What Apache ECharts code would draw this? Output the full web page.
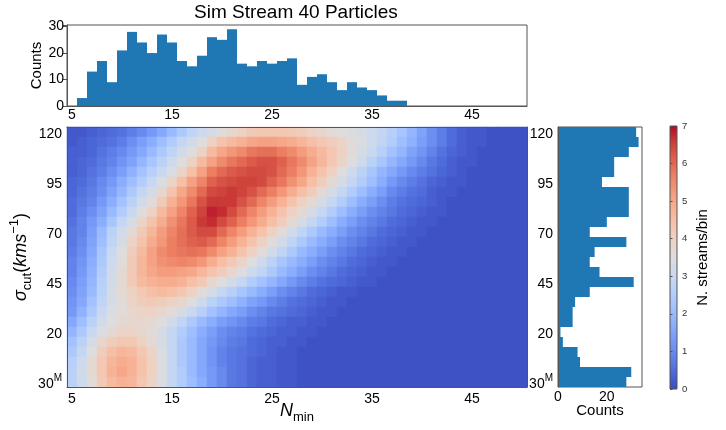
<!doctype html>
<html>
<head>
<meta charset="utf-8">
<title>Sim Stream 40 Particles</title>
<script src="https://cdn.jsdelivr.net/npm/echarts@6/dist/echarts.min.js"></script>
<style>
    html, body {margin: 0; padding: 0; background: #fff;}
    #chart {width: 726px; height: 430px;}
</style>
</head>
<body>
<div id="chart"></div>
<script type="text/javascript">
// N_min columns of the heatmap (also x categories of the top histogram)
var nMin = [5,6,7,8,9,10,11,12,13,14,15,16,17,18,19,20,21,22,23,24,25,26,27,28,29,30,31,32,33,34,35,36,37,38,39,40,41,42,43,44,45,46,47,48,49,50];
// sigma_cut rows, top to bottom (-5 is the "30^M" row)
var sigmaCut = [120,115,110,105,100,95,90,85,80,75,70,65,60,55,50,45,40,35,30,25,20,15,10,5,0,-5];

// top histogram: counts per N_min bin
var histN = [6,7,8,9,10,11,12,13,14,15,16,17,18,19,20,21,22,23,24,25,26,27,28,29,30,31,32,33,34,35,36,37,38];
var histNCounts = [3,13,17,9,21,28,24,20,27,24,17,15,19,26,25,29,16,15,17,16,17,18,8,11,12,9,6,9,7,6,4,2,2];

// right histogram: counts per sigma_cut bin (same order as sigmaCut)
var sigmaCounts = [32,33,29,23,23,18,29,29,29,20,13,28,15,13,17,31,13,7,6,6,1,2,8,9,30,28];

// colorbar scale
var cbMin = 0, cbMax = 7;

// N. streams/bin, one row per sigmaCut entry, one value per nMin entry
var density = [
    [0.2,0.2,0.3,0.4,0.5,0.6,0.8,1.0,1.3,1.6,2.0,2.4,2.8,3.1,3.3,3.6,3.8,4.0,4.2,4.3,4.3,4.3,4.2,4.1,3.9,3.8,3.6,3.5,3.4,3.3,3.1,2.9,2.6,2.3,1.9,1.5,1.1,0.8,0.5,0.3,0.2,0.2,0.1,0.1,0.1,0.1],
    [0.2,0.3,0.4,0.5,0.6,0.8,1.1,1.4,1.7,2.1,2.5,2.9,3.2,3.5,4.0,4.4,4.6,4.8,5.0,5.1,5.1,5.0,4.9,4.7,4.5,4.3,4.1,3.9,3.6,3.4,3.1,2.8,2.5,2.1,1.8,1.4,1.1,0.8,0.5,0.3,0.2,0.2,0.1,0.1,0.1,0.1],
    [0.3,0.3,0.4,0.6,0.8,1.0,1.3,1.6,2.0,2.4,2.8,3.2,3.5,4.0,4.6,5.0,5.3,5.5,5.8,5.9,5.9,5.7,5.5,5.2,4.9,4.6,4.3,4.0,3.6,3.3,3.0,2.6,2.2,1.9,1.5,1.2,0.9,0.6,0.4,0.3,0.2,0.1,0.1,0.1,0.1,0.1],
    [0.3,0.4,0.5,0.7,0.9,1.2,1.5,1.9,2.3,2.7,3.1,3.5,4.0,4.6,5.1,5.5,5.8,6.0,6.2,6.3,6.3,6.1,5.8,5.5,5.1,4.7,4.3,3.9,3.5,3.1,2.7,2.3,1.9,1.6,1.3,1.0,0.7,0.5,0.3,0.2,0.2,0.1,0.1,0.1,0.1,0.1],
    [0.3,0.4,0.6,0.8,1.1,1.4,1.8,2.2,2.6,3.0,3.4,3.9,4.5,5.1,5.7,6.0,6.2,6.3,6.4,6.4,6.3,6.0,5.7,5.3,4.8,4.4,4.0,3.5,3.1,2.7,2.3,1.9,1.6,1.3,1.0,0.8,0.6,0.4,0.3,0.2,0.1,0.1,0.1,0.1,0.1,0.1],
    [0.4,0.5,0.7,1.0,1.3,1.7,2.1,2.5,3.0,3.4,3.9,4.5,5.1,5.6,6.1,6.3,6.4,6.5,6.5,6.4,6.1,5.8,5.4,5.0,4.5,4.1,3.7,3.3,2.9,2.5,2.1,1.7,1.3,1.0,0.8,0.6,0.4,0.3,0.2,0.2,0.1,0.1,0.1,0.1,0.1,0.1],
    [0.4,0.6,0.8,1.1,1.5,1.9,2.4,2.9,3.3,3.8,4.4,5.0,5.5,6.0,6.4,6.5,6.6,6.5,6.3,6.0,5.7,5.3,4.9,4.5,4.1,3.7,3.3,2.9,2.5,2.1,1.7,1.4,1.0,0.8,0.6,0.5,0.3,0.2,0.2,0.1,0.1,0.1,0.1,0.1,0.1,0.1],
    [0.5,0.7,0.9,1.3,1.7,2.2,2.7,3.2,3.6,4.2,4.8,5.3,5.8,6.3,6.6,6.6,6.6,6.3,6.0,5.6,5.2,4.8,4.4,4.0,3.7,3.3,2.9,2.5,2.1,1.7,1.4,1.1,0.8,0.6,0.5,0.4,0.3,0.2,0.1,0.1,0.1,0.1,0.1,0.1,0.1,0.1],
    [0.5,0.8,1.1,1.5,2.0,2.5,3.0,3.5,4.0,4.6,5.1,5.6,6.1,6.5,6.8,6.7,6.4,6.0,5.6,5.2,4.8,4.4,4.0,3.7,3.3,2.9,2.5,2.1,1.7,1.4,1.1,0.9,0.7,0.5,0.4,0.3,0.2,0.2,0.1,0.1,0.1,0.1,0.1,0.1,0.1,0.1],
    [0.6,0.9,1.3,1.7,2.3,2.9,3.3,3.9,4.4,4.9,5.4,5.8,6.2,6.6,6.7,6.4,6.1,5.7,5.3,4.9,4.5,4.1,3.7,3.3,2.9,2.5,2.1,1.7,1.4,1.1,0.9,0.7,0.5,0.4,0.3,0.2,0.2,0.1,0.1,0.1,0.1,0.1,0.1,0.1,0.1,0.1],
    [0.7,0.9,1.4,2.0,2.7,3.2,3.7,4.2,4.7,5.2,5.6,5.9,6.2,6.4,6.4,6.0,5.6,5.2,4.8,4.4,4.0,3.6,3.2,2.8,2.4,2.0,1.7,1.4,1.1,0.9,0.7,0.5,0.4,0.3,0.2,0.2,0.1,0.1,0.1,0.1,0.1,0.1,0.1,0.1,0.1,0.1],
    [0.7,1.0,1.5,2.1,2.8,3.3,3.9,4.4,4.9,5.3,5.7,5.9,6.1,6.2,6.0,5.6,5.2,4.8,4.4,4.0,3.6,3.2,2.8,2.4,2.0,1.7,1.4,1.1,0.9,0.7,0.5,0.4,0.3,0.2,0.2,0.1,0.1,0.1,0.1,0.1,0.1,0.1,0.1,0.1,0.1,0.1],
    [0.8,1.1,1.6,2.3,3.0,3.5,4.1,4.6,5.1,5.5,5.7,5.8,5.9,5.8,5.5,5.1,4.8,4.4,4.0,3.6,3.2,2.8,2.4,2.0,1.7,1.4,1.1,0.9,0.7,0.5,0.4,0.3,0.2,0.2,0.1,0.1,0.1,0.1,0.1,0.1,0.1,0.1,0.1,0.1,0.1,0.1],
    [0.9,1.2,1.7,2.4,3.1,3.6,4.2,4.7,5.1,5.4,5.5,5.6,5.5,5.3,4.9,4.5,4.2,3.9,3.5,3.1,2.7,2.3,2.0,1.7,1.4,1.1,0.9,0.7,0.5,0.4,0.3,0.2,0.2,0.1,0.1,0.1,0.1,0.1,0.1,0.1,0.1,0.1,0.1,0.1,0.1,0.1],
    [0.9,1.3,1.8,2.5,3.2,3.7,4.2,4.7,5.0,5.2,5.2,5.1,5.0,4.7,4.4,4.1,3.8,3.5,3.1,2.8,2.4,2.0,1.7,1.4,1.1,0.9,0.7,0.5,0.4,0.3,0.2,0.2,0.1,0.1,0.1,0.1,0.1,0.1,0.1,0.1,0.1,0.1,0.1,0.1,0.1,0.1],
    [1.0,1.4,1.9,2.6,3.2,3.7,4.2,4.6,4.8,4.9,4.9,4.8,4.5,4.2,3.8,3.5,3.2,2.9,2.5,2.2,1.9,1.6,1.3,1.0,0.8,0.6,0.5,0.4,0.3,0.2,0.2,0.1,0.1,0.1,0.1,0.1,0.1,0.1,0.1,0.1,0.1,0.1,0.1,0.1,0.1,0.1],
    [1.1,1.5,2.0,2.7,3.3,3.7,4.0,4.3,4.5,4.6,4.5,4.3,4.0,3.6,3.3,2.9,2.6,2.3,2.0,1.7,1.4,1.1,0.9,0.7,0.5,0.4,0.3,0.2,0.2,0.1,0.1,0.1,0.1,0.1,0.1,0.1,0.1,0.1,0.1,0.1,0.1,0.1,0.1,0.1,0.1,0.1],
    [1.2,1.6,2.2,2.8,3.3,3.6,3.9,4.1,4.2,4.1,4.0,3.8,3.5,3.1,2.7,2.4,2.1,1.8,1.5,1.3,1.0,0.8,0.6,0.5,0.4,0.3,0.2,0.2,0.1,0.1,0.1,0.1,0.1,0.1,0.1,0.1,0.1,0.1,0.1,0.1,0.1,0.1,0.1,0.1,0.1,0.1],
    [1.3,1.8,2.4,3.0,3.4,3.6,3.8,3.9,3.9,3.8,3.6,3.3,3.0,2.6,2.2,1.9,1.6,1.4,1.1,0.9,0.7,0.6,0.5,0.4,0.3,0.2,0.2,0.1,0.1,0.1,0.1,0.1,0.1,0.1,0.1,0.1,0.1,0.1,0.1,0.1,0.1,0.1,0.1,0.1,0.1,0.1],
    [1.6,2.1,2.7,3.2,3.5,3.7,3.8,3.8,3.7,3.5,3.2,2.8,2.4,2.0,1.7,1.4,1.2,1.0,0.8,0.7,0.5,0.4,0.3,0.3,0.2,0.2,0.1,0.1,0.1,0.1,0.1,0.1,0.1,0.1,0.1,0.1,0.1,0.1,0.1,0.1,0.1,0.1,0.1,0.1,0.1,0.1],
    [1.9,2.4,3.0,3.4,3.7,3.9,3.9,3.8,3.6,3.3,2.9,2.5,2.1,1.7,1.4,1.1,0.9,0.8,0.6,0.5,0.4,0.3,0.3,0.2,0.2,0.1,0.1,0.1,0.1,0.1,0.1,0.1,0.1,0.1,0.1,0.1,0.1,0.1,0.1,0.1,0.1,0.1,0.1,0.1,0.1,0.1],
    [2.2,2.7,3.3,3.8,4.1,4.3,4.3,4.0,3.7,3.3,2.9,2.4,2.0,1.6,1.3,1.0,0.8,0.7,0.5,0.4,0.3,0.3,0.2,0.2,0.1,0.1,0.1,0.1,0.1,0.1,0.1,0.1,0.1,0.1,0.1,0.1,0.1,0.1,0.1,0.1,0.1,0.1,0.1,0.1,0.1,0.1],
    [2.4,2.9,3.5,4.1,4.5,4.7,4.6,4.3,3.9,3.4,2.9,2.4,2.0,1.6,1.2,0.9,0.7,0.6,0.5,0.4,0.3,0.2,0.2,0.1,0.1,0.1,0.1,0.1,0.1,0.1,0.1,0.1,0.1,0.1,0.1,0.1,0.1,0.1,0.1,0.1,0.1,0.1,0.1,0.1,0.1,0.1],
    [2.6,3.1,3.7,4.3,4.7,4.9,4.8,4.4,4.0,3.4,2.9,2.4,2.0,1.6,1.2,0.9,0.7,0.6,0.4,0.3,0.3,0.2,0.2,0.1,0.1,0.1,0.1,0.1,0.1,0.1,0.1,0.1,0.1,0.1,0.1,0.1,0.1,0.1,0.1,0.1,0.1,0.1,0.1,0.1,0.1,0.1],
    [2.7,3.2,3.7,4.3,4.8,5.0,4.8,4.4,4.0,3.4,2.9,2.5,2.0,1.6,1.3,1.0,0.7,0.6,0.4,0.3,0.3,0.2,0.2,0.1,0.1,0.1,0.1,0.1,0.1,0.1,0.1,0.1,0.1,0.1,0.1,0.1,0.1,0.1,0.1,0.1,0.1,0.1,0.1,0.1,0.1,0.1],
    [2.7,3.1,3.6,4.2,4.6,4.8,4.7,4.3,3.9,3.4,2.9,2.5,2.1,1.7,1.3,1.0,0.7,0.6,0.4,0.3,0.3,0.2,0.2,0.1,0.1,0.1,0.1,0.1,0.1,0.1,0.1,0.1,0.1,0.1,0.1,0.1,0.1,0.1,0.1,0.1,0.1,0.1,0.1,0.1,0.1,0.1]
];

// matplotlib coolwarm, 17 evenly spaced stops
var coolwarm = ['#3b4cc0','#4d68d7','#6282ea','#779af7','#8db0fe','#a3c2ff','#b8d0f9','#ccd9ee','#dddddd',
                '#ecd3c5','#f5c4ad','#f7b194','#f49a7b','#ec7f63','#de604d','#cb3e38','#b40426'];

var FONT = '"Liberation Sans", Arial, sans-serif';
var LINE = '#555';
var TXT = '#000';

var nCats = nMin.map(String);
var sigmaAsc = sigmaCut.slice().reverse();
var sigmaCats = sigmaAsc.map(String);

// top histogram on the nMin categories
var topData = nMin.map(function (n) {
    var k = histN.indexOf(n);
    return k < 0 ? null : histNCounts[k];
});
// right histogram on ascending sigma categories
var rightData = sigmaCounts.slice().reverse();

// heatmap cells
var heat = [];
for (var i = 0; i < sigmaCut.length; i++) {
    for (var j = 0; j < nMin.length; j++) {
        heat.push([j, sigmaCut.length - 1 - i, density[i][j]]);
    }
}

// colorbar fill: coolwarm from top (max) to bottom (min)
var cbGradient = {
    type: 'linear', x: 0, y: 0, x2: 0, y2: 1,
    colorStops: coolwarm.slice().reverse().map(function (c, k, arr) {
        return {offset: k / (arr.length - 1), color: c};
    })
};

var sigmaRich = {
    n: {fontFamily: FONT, fontSize: 14, color: TXT, lineHeight: 18, verticalAlign: 'bottom'},
    sup: {fontFamily: FONT, fontSize: 10, color: TXT, lineHeight: 18, verticalAlign: 'top'}
};
function sigmaLabel(v) {
    return v === '-5' ? '{n|30}{sup|M}' : '{n|' + v + '}';
}
function lineOnly(extra) {
    var a = {
        axisLine: {show: true, lineStyle: {color: LINE, width: 1}},
        axisTick: {show: false}, axisLabel: {show: false}, splitLine: {show: false}, z: 10
    };
    for (var k in extra) a[k] = extra[k];
    return a;
}

var myChart = echarts.init(document.getElementById('chart'), null, {renderer: 'canvas'});

var option = {
    backgroundColor: '#fff',
    animation: false,
    title: {
        text: 'Sim Stream 40 Particles',
        left: 194, top: 3, padding: 0,
        textStyle: {fontFamily: FONT, fontSize: 19, fontWeight: 'normal', color: TXT}
    },
    grid: [
        {left: 67, top: 25, width: 460, height: 81, outerBoundsMode: 'none',
            show: true, borderColor: LINE, borderWidth: 1, backgroundColor: 'transparent'},
        {left: 67, top: 127, width: 460, height: 260, outerBoundsMode: 'none'},
        {left: 558, top: 127, width: 84, height: 260, outerBoundsMode: 'none',
            show: true, borderColor: LINE, borderWidth: 1, backgroundColor: 'transparent'},
        {left: 670, top: 126, width: 7, height: 263, outerBoundsMode: 'none',
            show: true, borderColor: LINE, borderWidth: 1, backgroundColor: cbGradient}
    ],
    visualMap: {
        type: 'continuous',
        show: false,
        seriesIndex: 1,
        min: cbMin, max: cbMax,
        inRange: {color: coolwarm}
    },
    xAxis: [
        // 0 top hist, labels and major ticks
        {type: 'category', gridIndex: 0, data: nCats, position: 'bottom',
            axisLine: {lineStyle: {color: LINE}},
            axisTick: {alignWithLabel: true, length: 4, interval: function (i) { return i % 10 === 0; }, lineStyle: {color: LINE}},
            axisLabel: {interval: function (i) { return i % 10 === 0; }, margin: 2, fontFamily: FONT, fontSize: 14, color: TXT}},
        // 1 top hist, minor ticks
        {type: 'category', gridIndex: 0, data: nCats, position: 'bottom',
            axisLine: {show: false}, axisLabel: {show: false},
            axisTick: {alignWithLabel: true, length: 2.5, interval: function (i) { return i % 2 === 0; }, lineStyle: {color: LINE}}},
        // 2 heatmap x
        {type: 'category', gridIndex: 1, data: nCats, position: 'bottom', z: 10,
            axisLine: {lineStyle: {color: LINE}},
            axisTick: {alignWithLabel: true, length: 4, interval: function (i) { return i % 10 === 0; }, lineStyle: {color: LINE}},
            axisLabel: {interval: function (i) { return i % 10 === 0; }, margin: 5, fontFamily: FONT, fontSize: 14, color: TXT},
            name: '{i|N}{s|min}', nameLocation: 'middle', nameGap: 15, nameMoveOverlap: false,
            nameTextStyle: {rich: {
                i: {fontFamily: FONT, fontSize: 18, fontStyle: 'italic', color: TXT, lineHeight: 22, verticalAlign: 'top'},
                s: {fontFamily: FONT, fontSize: 13, color: TXT, lineHeight: 22, verticalAlign: 'bottom'}
            }}},
        // 3 heatmap x minor ticks
        {type: 'category', gridIndex: 1, data: nCats, position: 'bottom',
            axisLine: {show: false}, axisLabel: {show: false},
            axisTick: {alignWithLabel: true, length: 2.5, interval: function (i) { return i % 2 === 0; }, lineStyle: {color: LINE}}},
        // 4 heatmap top frame
        lineOnly({type: 'category', gridIndex: 1, data: nCats, position: 'top'}),
        // 5 right hist counts
        {type: 'value', gridIndex: 2, min: 0, max: 34.4, interval: 5, position: 'bottom',
            splitLine: {show: false},
            axisLine: {lineStyle: {color: LINE}},
            axisTick: {length: 3, lineStyle: {color: LINE}},
            axisLabel: {showMaxLabel: false, margin: 3, fontFamily: FONT, fontSize: 14, color: TXT,
                formatter: function (v) { return (v === 0 || v === 20) ? String(v) : ''; }},
            name: 'Counts', nameLocation: 'middle', nameGap: 16, nameMoveOverlap: false,
            nameTextStyle: {fontFamily: FONT, fontSize: 15, color: TXT}},
        // 6 colorbar (hidden x)
        {type: 'value', gridIndex: 3, min: 0, max: 1, show: false}
    ],
    yAxis: [
        // 0 top hist counts
        {type: 'value', gridIndex: 0, min: 0, max: 30.6, interval: 10,
            splitLine: {show: false},
            axisLine: {show: true, lineStyle: {color: LINE}},
            axisTick: {show: true, length: 4, lineStyle: {color: LINE}},
            axisLabel: {margin: 3, fontFamily: FONT, fontSize: 14, color: TXT,
                formatter: function (v) { return v % 10 === 0 ? String(v) : ''; }},
            name: 'Counts', nameLocation: 'middle', nameGap: 23, nameMoveOverlap: false,
            nameTextStyle: {fontFamily: FONT, fontSize: 15, color: TXT}},
        // 1 heatmap y
        {type: 'category', gridIndex: 1, data: sigmaCats, z: 10,
            axisLine: {lineStyle: {color: LINE}},
            axisTick: {alignWithLabel: true, length: 4, interval: function (i) { return i % 5 === 0; }, lineStyle: {color: LINE}},
            axisLabel: {interval: function (i) { return i % 5 === 0; }, margin: 5, formatter: sigmaLabel, rich: sigmaRich},
            name: '{g|σ}{s|cut}{t|(}{g|kms}{p|−1}{t|)}', nameLocation: 'middle', nameGap: 33, nameMoveOverlap: false,
            nameTextStyle: {rich: {
                g: {fontFamily: FONT, fontSize: 18, fontStyle: 'italic', color: TXT, lineHeight: 26, verticalAlign: 'middle'},
                t: {fontFamily: FONT, fontSize: 18, color: TXT, lineHeight: 26, verticalAlign: 'middle'},
                s: {fontFamily: FONT, fontSize: 13, color: TXT, lineHeight: 26, verticalAlign: 'bottom'},
                p: {fontFamily: FONT, fontSize: 13, color: TXT, lineHeight: 26, verticalAlign: 'top'}
            }}},
        // 2 heatmap y minor ticks
        {type: 'category', gridIndex: 1, data: sigmaCats,
            axisLine: {show: false}, axisLabel: {show: false},
            axisTick: {alignWithLabel: true, length: 2.5, interval: 0, lineStyle: {color: LINE}}},
        // 3 heatmap right frame
        lineOnly({type: 'category', gridIndex: 1, data: sigmaCats, position: 'right'}),
        // 4 right hist y
        {type: 'category', gridIndex: 2, data: sigmaCats, z: 10,
            axisLine: {lineStyle: {color: LINE}},
            axisTick: {alignWithLabel: true, length: 4, interval: function (i) { return i % 5 === 0; }, lineStyle: {color: LINE}},
            axisLabel: {interval: function (i) { return i % 5 === 0; }, margin: 5, formatter: sigmaLabel, rich: sigmaRich}},
        // 5 right hist minor ticks
        {type: 'category', gridIndex: 2, data: sigmaCats,
            axisLine: {show: false}, axisLabel: {show: false},
            axisTick: {alignWithLabel: true, length: 2.5, interval: 0, lineStyle: {color: LINE}}},
        // 6 colorbar scale
        {type: 'value', gridIndex: 3, min: cbMin, max: cbMax, interval: 1, position: 'right', z: 10,
            splitLine: {show: false},
            axisLine: {show: false},
            axisTick: {show: true, length: 2.5, lineStyle: {color: LINE}},
            axisLabel: {margin: 5, fontFamily: FONT, fontSize: 9.5, color: '#333'},
            name: 'N. streams/bin', nameLocation: 'middle', nameGap: 18, nameMoveOverlap: false,
            nameTextStyle: {fontFamily: FONT, fontSize: 15, color: TXT}}
    ],
    series: [
        {type: 'bar', name: 'N_min counts', xAxisIndex: 0, yAxisIndex: 0, data: topData,
            barWidth: '100%', barCategoryGap: 0, itemStyle: {color: '#1f77b4'}, silent: true},
        {type: 'heatmap', name: 'density', xAxisIndex: 2, yAxisIndex: 1, data: heat,
            progressive: 0, silent: true, itemStyle: {borderWidth: 0}},
        {type: 'bar', name: 'sigma counts', xAxisIndex: 5, yAxisIndex: 4, data: rightData,
            barWidth: '100%', barCategoryGap: 0, itemStyle: {color: '#1f77b4'}, silent: true}
    ]
};

myChart.setOption(option);
</script>
</body>
</html>
